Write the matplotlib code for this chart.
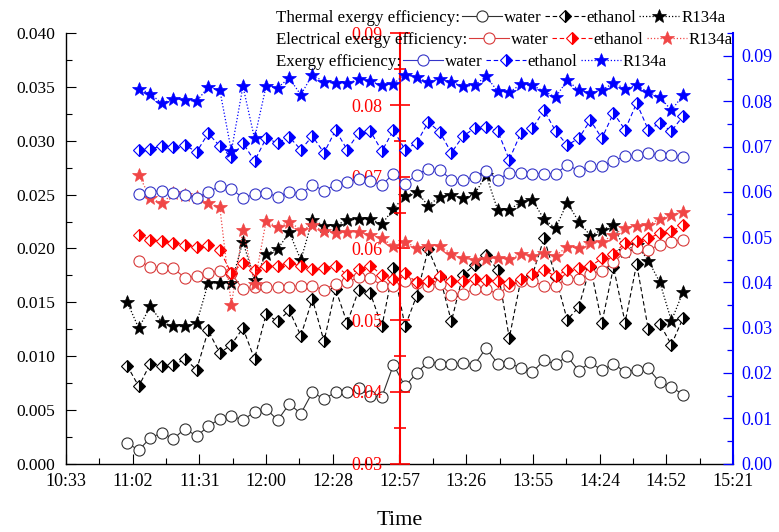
import matplotlib
matplotlib.use("Agg")
import matplotlib.pyplot as plt
from matplotlib.lines import Line2D
from matplotlib.ticker import MultipleLocator, FormatStrFormatter, FixedLocator
import numpy as np

plt.rcParams['font.family'] = ['Liberation Serif', 'DejaVu Serif']

# ---------------- data ----------------
times = ["11:00", "11:05", "11:10", "11:15", "11:20", "11:25", "11:30", "11:35", "11:40", "11:45",
         "11:50", "11:55", "12:00", "12:05", "12:10", "12:15", "12:20", "12:25", "12:30", "12:35",
         "12:40", "12:45", "12:50", "12:55", "13:00", "13:05", "13:10", "13:15", "13:20", "13:25",
         "13:30", "13:35", "13:40", "13:45", "13:50", "13:55", "14:00", "14:05", "14:10", "14:15",
         "14:20", "14:25", "14:30", "14:35", "14:40", "14:45", "14:50", "14:55", "15:00"]

thermal_water = [0.00192, 0.00123, 0.00239, 0.00285, 0.00229, 0.00325, 0.00253, 0.00346, 0.00415, 0.00439,
                 0.00408, 0.00476, 0.00510, 0.00402, 0.00554, 0.00464, 0.00662, 0.00600, 0.00662, 0.00662,
                 0.00703, 0.00625, 0.00619, 0.00919, 0.00717, 0.00842, 0.00944, 0.00928, 0.00925, 0.00935,
                 0.00919, 0.01074, 0.00928, 0.00935, 0.00888, 0.00851, 0.00959, 0.00925, 0.00996, 0.00863,
                 0.00940, 0.00866, 0.00928, 0.00851, 0.00872, 0.00884, 0.00755, 0.00712, 0.00640]
thermal_ethanol = [0.00910, 0.00718, 0.00928, 0.00903, 0.00912, 0.00972, 0.00872, 0.01237, 0.01027, 0.01104,
                   0.01259, 0.00972, 0.01389, 0.01321, 0.01423, 0.01188, 0.01529, 0.01135, 0.01621, 0.01306,
                   0.01615, 0.01584, 0.01274, 0.01822, 0.01274, 0.01559, 0.01993, 0.01738, 0.01321, 0.01754,
                   0.01847, 0.01935, 0.01801, 0.01167, 0.01708, 0.01754, 0.02095, 0.01738, 0.01336, 0.01454,
                   0.01831, 0.01306, 0.01826, 0.01311, 0.01856, 0.01250, 0.01299, 0.01104, 0.01352]
thermal_r134a = [0.01501, 0.01259, 0.01460, 0.01315, 0.01274, 0.01274, 0.01306, 0.01677, 0.01677, 0.01677,
                 0.02063, 0.01708, 0.01949, 0.01993, 0.02150, 0.01893, 0.02265, 0.02212, 0.02212, 0.02265,
                 0.02271, 0.02271, 0.02227, 0.02367, 0.02490, 0.02527, 0.02397, 0.02481, 0.02497, 0.02466,
                 0.02503, 0.02682, 0.02357, 0.02357, 0.02434, 0.02450, 0.02271, 0.02188, 0.02425, 0.02249,
                 0.02119, 0.02172, 0.02218, 0.01980, 0.02033, 0.01887, 0.01686, 0.01327, 0.01594]

# electrical and total exergy series start at 11:05
elec_water = [0.0583, 0.0574, 0.0573, 0.0572, 0.0559, 0.0561, 0.0565, 0.0569, 0.0565, 0.0543,
              0.0546, 0.0546, 0.0546, 0.0546, 0.0548, 0.0548, 0.0542, 0.0551, 0.0553, 0.0560,
              0.0559, 0.0548, 0.0547, 0.0554, 0.0552, 0.0548, 0.0551, 0.0535, 0.0536, 0.0544,
              0.0544, 0.0536, 0.0548, 0.0555, 0.0554, 0.0548, 0.0548, 0.0558, 0.0558, 0.0564,
              0.0569, 0.0581, 0.0595, 0.0601, 0.0598, 0.0605, 0.0609, 0.0612]
elec_ethanol = [0.0619, 0.0612, 0.0610, 0.0607, 0.0605, 0.0602, 0.0605, 0.0598, 0.0565, 0.0580,
                0.0570, 0.0576, 0.0576, 0.0580, 0.0575, 0.0571, 0.0573, 0.0576, 0.0563, 0.0571,
                0.0576, 0.0563, 0.0558, 0.0565, 0.0553, 0.0554, 0.0562, 0.0554, 0.0555, 0.0557,
                0.0556, 0.0554, 0.0552, 0.0558, 0.0564, 0.0570, 0.0561, 0.0570, 0.0572, 0.0575,
                0.0586, 0.0592, 0.0608, 0.0611, 0.0614, 0.0621, 0.0624, 0.0632]
elec_r134a = [0.0703, 0.0670, 0.0663, 0.0677, 0.0674, 0.0672, 0.0663, 0.0658, 0.0521, 0.0626,
              0.0551, 0.0638, 0.0630, 0.0637, 0.0626, 0.0632, 0.0624, 0.0622, 0.0623, 0.0623,
              0.0619, 0.0614, 0.0603, 0.0609, 0.0601, 0.0603, 0.0604, 0.0592, 0.0586, 0.0584,
              0.0585, 0.0587, 0.0585, 0.0592, 0.0589, 0.0593, 0.0590, 0.0602, 0.0601, 0.0607,
              0.0609, 0.0619, 0.0629, 0.0631, 0.0633, 0.0641, 0.0647, 0.0651]
exergy_water = [0.0595, 0.0600, 0.0602, 0.0597, 0.0592, 0.0586, 0.0600, 0.0612, 0.0607, 0.0586,
                0.0595, 0.0598, 0.0589, 0.0600, 0.0595, 0.0616, 0.0602, 0.0616, 0.0621, 0.0629,
                0.0624, 0.0615, 0.0640, 0.0617, 0.0638, 0.0651, 0.0648, 0.0627, 0.0627, 0.0632,
                0.0647, 0.0627, 0.0642, 0.0642, 0.0640, 0.0640, 0.0640, 0.0659, 0.0647, 0.0656,
                0.0656, 0.0669, 0.0678, 0.0681, 0.0685, 0.0681, 0.0682, 0.0676]
exergy_ethanol = [0.0693, 0.0695, 0.0701, 0.0698, 0.0703, 0.0688, 0.0729, 0.0701, 0.0676, 0.0708,
                  0.0668, 0.0718, 0.0708, 0.0721, 0.0693, 0.0723, 0.0686, 0.0736, 0.0693, 0.0730,
                  0.0734, 0.0690, 0.0736, 0.0693, 0.0708, 0.0754, 0.0732, 0.0686, 0.0723, 0.0740,
                  0.0743, 0.0734, 0.0671, 0.0730, 0.0740, 0.0780, 0.0734, 0.0703, 0.0718, 0.0758,
                  0.0718, 0.0774, 0.0737, 0.0796, 0.0737, 0.0751, 0.0734, 0.0767]
exergy_r134a = [0.0828, 0.0817, 0.0795, 0.0806, 0.0802, 0.0800, 0.0831, 0.0825, 0.0690, 0.0833,
                0.0718, 0.0833, 0.0830, 0.0851, 0.0814, 0.0859, 0.0842, 0.0840, 0.0840, 0.0848,
                0.0844, 0.0835, 0.0839, 0.0859, 0.0853, 0.0842, 0.0850, 0.0842, 0.0833, 0.0835,
                0.0855, 0.0822, 0.0820, 0.0837, 0.0835, 0.0822, 0.0809, 0.0846, 0.0825, 0.0818,
                0.0825, 0.0840, 0.0828, 0.0835, 0.0820, 0.0809, 0.0780, 0.0813]

xtick_labels = ["10:33", "11:02", "11:31", "12:00", "12:28", "12:57",
                "13:26", "13:55", "14:24", "14:52", "15:21"]
series_names = ["water", "ethanol", "R134a"]
row_titles = ["Thermal exergy efficiency:", "Electrical exergy efficiency:", "Exergy efficiency:"]

# ---------------- styles ----------------
BLACK, RED, BLUE = "#000000", "#FF0000", "#0000FF"
RED_STAR, RED_CIRC = "#F04646", "#D83A3A"
BLUE_CIRC = "#3535C8"
GREY = "#303030"
DASH = (0, (4, 2.5))
DOT = (0, (1, 1.6))


def styles(main, circ, star):
    return [
        dict(color=circ, ls='-', lw=0.8, marker='o', ms=8, mfc='white', mec=circ, mew=0.8),
        dict(color=main, ls=DASH, lw=0.8, marker='D', ms=6.3, fillstyle='right', mfc=main,
             markerfacecoloralt='white', mec=main, mew=0.8),
        dict(color=star, ls=DOT, lw=0.9, marker='*', ms=10.5, mfc=star, mec=star, mew=0.5),
    ]


st_th = styles(BLACK, GREY, BLACK)
st_el = styles(RED, RED_CIRC, RED_STAR)
st_ex = styles(BLUE, BLUE_CIRC, BLUE)

t_min = np.array([int(s[:2]) * 60 + int(s[3:]) for s in times])
x0, x1 = 633.6, 921.6
xt = np.linspace(x0, x1, len(xtick_labels))

W, H = 779, 532
L, R, T, B = 66, 733, 33.3, 463.5
fig = plt.figure(figsize=(W / 100, H / 100), dpi=100)
ax = fig.add_axes([L / W, 1 - B / H, (R - L) / W, (B - T) / H])
ax_el = ax.twinx()
ax_ex = ax.twinx()

for vals, s in zip([thermal_water, thermal_ethanol, thermal_r134a], st_th):
    ax.plot(t_min, vals, **s)
for vals, s in zip([elec_water, elec_ethanol, elec_r134a], st_el):
    ax_el.plot(t_min[1:], vals, **s)
for vals, s in zip([exergy_water, exergy_ethanol, exergy_r134a], st_ex):
    ax_ex.plot(t_min[1:], vals, **s)

# ---- main (thermal) axis ----
ax.set_xlim(x0, x1)
ax.set_ylim(0, 0.04)
ax.set_xticks(xt)
ax.set_xticklabels(xtick_labels)
ax.xaxis.set_minor_locator(FixedLocator((xt[:-1] + xt[1:]) / 2))
ax.yaxis.set_major_locator(MultipleLocator(0.005))
ax.yaxis.set_minor_locator(MultipleLocator(0.0025))
ax.yaxis.set_major_formatter(FormatStrFormatter('%.3f'))
ax.tick_params(which='both', direction='in', width=0.8, top=False, right=False)
ax.tick_params(which='major', length=7)
ax.tick_params(which='minor', length=4)
ax.tick_params(axis='y', labelsize=12.5, pad=8)
ax.tick_params(axis='x', labelsize=13, pad=7)
ax.spines['top'].set_visible(False)
ax.spines['right'].set_visible(False)
ax.spines['left'].set_linewidth(1.0)
ax.spines['bottom'].set_linewidth(1.0)
ax.set_xlabel("Time", fontsize=16, labelpad=15)

# ---- exergy (blue, right) ----
ax_ex.set_ylim(0, 0.095)
ax_ex.yaxis.set_major_locator(MultipleLocator(0.01))
ax_ex.yaxis.set_minor_locator(MultipleLocator(0.005))
ax_ex.yaxis.set_major_formatter(FormatStrFormatter('%.2f'))
for sp in ['left', 'top', 'bottom']:
    ax_ex.spines[sp].set_visible(False)
ax_ex.spines['right'].set_color(BLUE)
ax_ex.spines['right'].set_linewidth(1.5)
ax_ex.tick_params(axis='y', which='both', direction='in', colors=BLUE, width=0.9,
                  labelsize=13, pad=6)
ax_ex.tick_params(axis='y', which='major', length=7)
ax_ex.tick_params(axis='y', which='minor', length=4)

# ---- electrical (red, inner axis at 12:57) ----
ax_el.set_ylim(0.03, 0.09)
ax_el.yaxis.set_major_locator(MultipleLocator(0.01))
ax_el.yaxis.set_minor_locator(MultipleLocator(0.005))
ax_el.yaxis.set_major_formatter(FormatStrFormatter('%.2f'))
for sp in ['right', 'top', 'bottom']:
    ax_el.spines[sp].set_visible(False)
ax_el.spines['left'].set_visible(True)
ax_el.spines['left'].set_position(('data', xt[5]))
ax_el.spines['left'].set_color(RED)
ax_el.spines['left'].set_linewidth(1.5)
ax_el.yaxis.set_ticks_position('left')
ax_el.yaxis.set_label_position('left')
ax_el.tick_params(axis='y', which='both', direction='inout', colors=RED, width=1.2,
                  labelsize=13, pad=5)
ax_el.tick_params(axis='y', which='major', length=14)
ax_el.tick_params(axis='y', which='minor', length=8)

# ---------------- legend (flowing rows) ----------------
renderer = fig.canvas.get_renderer()
baselines = [21.5, 43.5, 65.5]
for title, yb, sts in zip(row_titles, baselines, [st_th, st_el, st_ex]):
    x = 276.0
    yf = 1 - yb / H
    ym = 1 - (yb - 5.5) / H
    t = fig.text(x / W, yf, title, fontsize=12.2, va='baseline', ha='left')
    x = t.get_window_extent(renderer).x1 + 2
    for name, s in zip(series_names, sts):
        hl = 40
        fig.add_artist(Line2D([x / W, (x + hl) / W], [ym, ym], transform=fig.transFigure,
                              color=s['color'], ls=s['ls'], lw=s['lw']))
        mk = {k: v for k, v in s.items() if k not in ('color', 'ls', 'lw')}
        fig.add_artist(Line2D([(x + hl / 2) / W], [ym], transform=fig.transFigure,
                              ls='none', **mk))
        x += hl + 2
        t = fig.text(x / W, yf, name, fontsize=12.2, va='baseline', ha='left')
        x = t.get_window_extent(renderer).x1 + 3

fig.savefig("out.png", dpi=100)
